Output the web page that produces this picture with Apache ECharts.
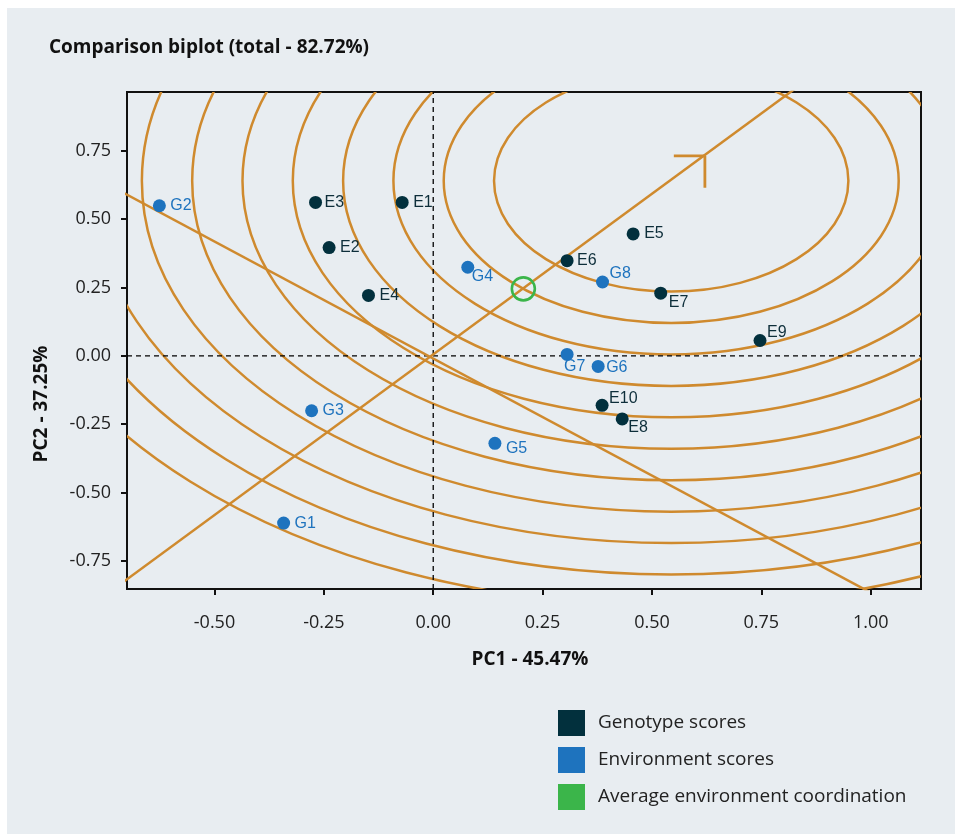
<!DOCTYPE html>
<html>
<head>
<meta charset="utf-8">
<title>Comparison biplot</title>
<script src="https://cdn.jsdelivr.net/npm/echarts@6/dist/echarts.min.js"></script>
<style>
  html, body { margin: 0; padding: 0; background: #ffffff; }
  #panel { position: absolute; left: 7px; top: 8px; right: 0; bottom: 0; background: #e8edf1; }
  #chart { position: absolute; left: 0; top: 0; width: 955px; height: 834px; }
</style>
</head>
<body>
<div id="panel"></div>
<div id="chart"></div>
<script>
// ---- scores (PC1, PC2) ----
const genotypeNames = ['E1', 'E2', 'E3', 'E4', 'E5', 'E6', 'E7', 'E8', 'E9', 'E10'];
const genotypePC1 = [-0.071, -0.238, -0.269, -0.148, 0.457, 0.306, 0.520, 0.432, 0.747, 0.386];
const genotypePC2 = [0.561, 0.396, 0.561, 0.221, 0.446, 0.348, 0.229, -0.231, 0.056, -0.181];

const environmentNames = ['G1', 'G2', 'G3', 'G4', 'G5', 'G6', 'G7', 'G8'];
const environmentPC1 = [-0.342, -0.626, -0.278, 0.079, 0.141, 0.377, 0.306, 0.387];
const environmentPC2 = [-0.612, 0.549, -0.201, 0.324, -0.320, -0.039, 0.005, 0.270];

// average environment coordination
const averageEnvironment = [0.206, 0.245];

// average environment axis and its perpendicular through the origin
const aeaAxis = [[-0.75, -0.876], [0.85, 1.004]];
const aeaPerpendicular = [[-0.75, 0.632], [1.05, -0.909]];

// ideal point arrow on the axis
const arrowLegs = [[0.550, 0.731], [0.621, 0.731], [0.621, 0.615]];

// concentric distance rings around the ideal point
const ringCenter = [0.544, 0.640];
const ringRadii = [0.405, 0.52, 0.635, 0.75, 0.865, 0.98, 1.095, 1.21, 1.325, 1.44, 1.555];

// axis ranges and ticks
const xRange = [-0.70, 1.115];
const yRange = [-0.853, 0.965];
const xTicks = [-0.5, -0.25, 0, 0.25, 0.5, 0.75, 1.0];
const yTicks = [-0.75, -0.5, -0.25, 0, 0.25, 0.5, 0.75];

// label placement around each point: [dx, dy] from the point centre
const labelOffsets = {
  E1: [11, 0], E2: [11, 0], E3: [9, 0], E4: [11, 0], E5: [11, 0],
  E6: [10, 0], E7: [8, 9], E8: [6, 9], E9: [7, -8], E10: [7, -7],
  G1: [11, 0], G2: [11, 0], G3: [11, 0], G4: [4, 9], G5: [11, 5],
  G6: [8, 1.5], G7: [-3, 12.5], G8: [7, -8]
};

const COLORS = {
  ring: '#cf8a2e',
  genotype: '#02303d',
  environment: '#1e73be',
  average: '#3bb54a',
  axis: '#111111',
  text: '#222222'
};
const labelFont = 'Liberation Sans, Arial, sans-serif';
const uiFont = 'Open Sans, Noto Sans, sans-serif';

function pointItems(names, xs, ys, color) {
  return names.map((n, i) => ({
    name: n,
    value: [xs[i], ys[i]],
    label: {
      show: true,
      formatter: n,
      position: 'inside',
      align: 'left',
      verticalAlign: 'middle',
      offset: labelOffsets[n],
      color: color,
      fontSize: 16,
      fontFamily: labelFont
    }
  }));
}

const chart = echarts.init(document.getElementById('chart'), null, { renderer: 'canvas' });

const option = {
  backgroundColor: 'transparent',
  animation: false,
  title: {
    text: 'Comparison biplot (total - 82.72%)',
    left: 49,
    top: 38,
    padding: 0,
    textStyle: { fontFamily: uiFont, fontSize: 19, fontWeight: 'bold', color: '#111' }
  },
  legend: {
    orient: 'vertical',
    left: 558,
    top: 710,
    padding: 0,
    icon: 'rect',
    itemWidth: 27,
    itemHeight: 26,
    itemGap: 11,
    selectedMode: false,
    textStyle: { fontFamily: uiFont, fontSize: 19, color: COLORS.text, padding: [0, 0, 0, 8] },
    data: [
      { name: 'Genotype scores', itemStyle: { color: COLORS.genotype, borderWidth: 0, opacity: 1 } },
      { name: 'Environment scores', itemStyle: { color: COLORS.environment, borderWidth: 0, opacity: 1 } },
      { name: 'Average environment coordination', itemStyle: { color: COLORS.average, borderWidth: 0, opacity: 1 } }
    ]
  },
  graphic: [
    {
      type: 'text',
      x: 530, y: 660,
      style: {
        text: 'PC1 - 45.47%',
        fontFamily: uiFont, fontSize: 19, fontWeight: 'bold', fill: '#111',
        align: 'center', verticalAlign: 'middle'
      }
    },
    {
      type: 'text',
      x: 42, y: 404,
      rotation: Math.PI / 2,
      style: {
        text: 'PC2 - 37.25%',
        fontFamily: uiFont, fontSize: 19, fontWeight: 'bold', fill: '#111',
        align: 'center', verticalAlign: 'middle'
      }
    }
  ],
  grid: {
    left: 127, top: 92, width: 794, height: 497,
    show: true,
    borderColor: COLORS.axis,
    borderWidth: 2,
    backgroundColor: 'transparent',
    containLabel: false
  },
  xAxis: {
    type: 'value',
    min: xRange[0], max: xRange[1],
    splitLine: { show: false },
    axisLine: { show: false, onZero: false },
    axisTick: { show: true, length: 6, lineStyle: { color: COLORS.axis, width: 2 }, customValues: xTicks },
    axisLabel: {
      customValues: xTicks,
      formatter: v => v.toFixed(2),
      fontFamily: uiFont, fontSize: 18, color: COLORS.text, margin: 25
    }
  },
  yAxis: {
    type: 'value',
    min: yRange[0], max: yRange[1],
    splitLine: { show: false },
    axisLine: { show: false, onZero: false },
    axisTick: { show: true, length: 6, lineStyle: { color: COLORS.axis, width: 2 }, customValues: yTicks },
    axisLabel: {
      customValues: yTicks,
      formatter: v => v.toFixed(2),
      fontFamily: uiFont, fontSize: 18, color: COLORS.text, margin: 16
    }
  },
  series: [
    {
      name: 'rings',
      type: 'custom',
      clip: true,
      silent: true,
      z: 1,
      data: ringRadii.map(r => [ringCenter[0], ringCenter[1], r]),
      renderItem: function (params, api) {
        const c = api.coord([api.value(0), api.value(1)]);
        const r = api.value(2);
        const s = api.size([r, r]);
        return {
          type: 'ellipse',
          shape: { cx: c[0], cy: c[1], rx: s[0], ry: s[1] },
          style: { fill: 'none', stroke: COLORS.ring, lineWidth: 2.5 }
        };
      }
    },
    {
      name: 'x zero',
      type: 'line',
      silent: true, z: 2,
      symbol: 'none',
      data: [[0, yRange[0]], [0, yRange[1]]],
      lineStyle: { color: '#000', width: 1.3, type: [5, 4] }
    },
    {
      name: 'y zero',
      type: 'line',
      silent: true, z: 2,
      symbol: 'none',
      data: [[xRange[0], 0], [xRange[1], 0]],
      lineStyle: { color: '#000', width: 1.3, type: [5, 4] }
    },
    {
      name: 'AEA',
      type: 'line',
      silent: true, z: 3,
      symbol: 'none',
      clip: true,
      data: aeaAxis,
      lineStyle: { color: COLORS.ring, width: 2.5 }
    },
    {
      name: 'AEA perpendicular',
      type: 'line',
      silent: true, z: 3,
      symbol: 'none',
      clip: true,
      data: aeaPerpendicular,
      lineStyle: { color: COLORS.ring, width: 2.5 }
    },
    {
      name: 'arrow',
      type: 'line',
      silent: true, z: 3,
      symbol: 'none',
      data: arrowLegs,
      lineStyle: { color: COLORS.ring, width: 2.8 }
    },
    {
      name: 'Average environment coordination',
      type: 'scatter',
      z: 4,
      symbol: 'circle',
      symbolSize: 23,
      itemStyle: { color: 'rgba(0,0,0,0)', borderColor: COLORS.average, borderWidth: 2.6, opacity: 1 },
      data: [averageEnvironment]
    },
    {
      name: 'Environment scores',
      type: 'scatter',
      z: 5,
      symbolSize: 13,
      itemStyle: { color: COLORS.environment, opacity: 1 },
      data: pointItems(environmentNames, environmentPC1, environmentPC2, COLORS.environment)
    },
    {
      name: 'Genotype scores',
      type: 'scatter',
      z: 5,
      symbolSize: 13,
      itemStyle: { color: COLORS.genotype, opacity: 1 },
      data: pointItems(genotypeNames, genotypePC1, genotypePC2, '#0d2e3a')
    }
  ]
};

chart.setOption(option);
</script>
</body>
</html>
